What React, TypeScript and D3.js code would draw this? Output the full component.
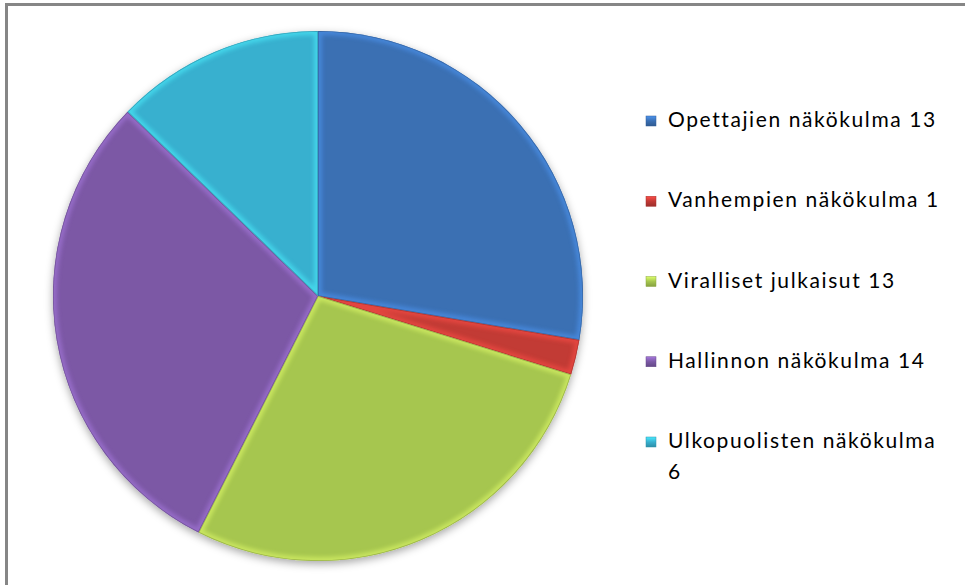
import React from "react";
import * as d3 from "d3";

const categories = [
  "Opettajien näkökulma",
  "Vanhempien näkökulma",
  "Viralliset julkaisut",
  "Hallinnon näkökulma",
  "Ulkopuolisten näkökulma",
];
const values = [13, 1, 13, 14, 6];
const colors = ["#3a6fb3", "#c23a35", "#a6c64f", "#7b59a5", "#38b0cf"];
const legendLines = [
  ["Opettajien näkökulma 13"],
  ["Vanhempien näkökulma 1"],
  ["Viralliset julkaisut 13"],
  ["Hallinnon näkökulma 14"],
  ["Ulkopuolisten näkökulma", "6"],
];

const W = 965;
const H = 585;
const cx = 318;
const cy = 296;
const R = 265;

export default function App() {
  const pie = d3
    .pie<number>()
    .sort(null)
    .value((d) => d);
  const arcs = pie(values);
  const arcGen = d3.arc<d3.PieArcDatum<number>>().innerRadius(0).outerRadius(R);
  const legendY = d3.scaleLinear().domain([0, 4]).range([127, 448]);

  return (
    <div style={{ position: "fixed", left: 0, top: 0, width: W, height: H, background: "#fff" }}>
      <svg width={W} height={H} style={{ display: "block" }}>
        <defs>
          <filter id="shadow" x="-20%" y="-20%" width="140%" height="140%">
            <feDropShadow dx="0" dy="3" stdDeviation="4" floodColor="#000" floodOpacity="0.35" />
          </filter>
          <filter id="blur" x="-10%" y="-10%" width="120%" height="120%">
            <feGaussianBlur stdDeviation="2" />
          </filter>
          {arcs.map((a, i) => (
            <clipPath id={`clip${i}`} key={i}>
              <path d={arcGen(a) || ""} />
            </clipPath>
          ))}
          {colors.map((c, i) => (
            <linearGradient id={`lg${i}`} key={i} x1="0" y1="0" x2="0" y2="1">
              <stop offset="0" stopColor={d3.color(c)!.brighter(0.8).formatHex()} />
              <stop offset="0.5" stopColor={c} />
              <stop offset="1" stopColor={d3.color(c)!.darker(0.6).formatHex()} />
            </linearGradient>
          ))}
        </defs>
        <rect x={0} y={0} width={W} height={H} fill="#fff" />
        <line x1={5} x2={W} y1={4.5} y2={4.5} stroke="#868686" strokeWidth={3} />
        <line x1={6.5} x2={6.5} y1={3} y2={H} stroke="#868686" strokeWidth={3} />
        <g transform={`translate(${cx},${cy})`}>
          <g filter="url(#shadow)">
            {arcs.map((a, i) => (
              <path key={i} d={arcGen(a) || ""} fill={colors[i]} />
            ))}
          </g>
          {arcs.map((a, i) => (
            <g key={i} clipPath={`url(#clip${i})`}>
              <path
                d={arcGen(a) || ""}
                fill="none"
                stroke={d3.color(colors[i])!.brighter(0.9).formatHex()}
                strokeWidth={8}
                opacity={0.55}
                filter="url(#blur)"
              />
              <path
                d={arcGen(a) || ""}
                fill="none"
                stroke={d3.color(colors[i])!.darker(0.8).formatHex()}
                strokeWidth={1.5}
                opacity={0.6}
              />
            </g>
          ))}
        </g>
        <g fontFamily="Lato, 'Open Sans', sans-serif" fontSize={21} letterSpacing={1.6} fill="#000">
          {categories.map((c, i) => {
            const y = legendY(i);
            return (
              <g key={c}>
                <rect x={646} y={y - 11} width={10} height={10} fill={`url(#lg${i})`} stroke={d3.color(colors[i])!.darker(0.5).formatHex()} strokeWidth={0.5} />
                {legendLines[i].map((t, j) => (
                  <text key={j} x={668} y={y + j * 31}>
                    {t}
                  </text>
                ))}
              </g>
            );
          })}
        </g>
      </svg>
    </div>
  );
}
